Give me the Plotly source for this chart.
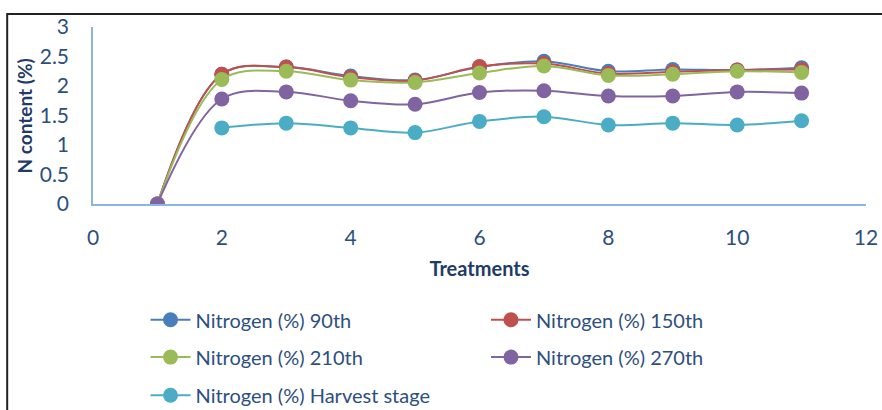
import plotly.graph_objects as go

# Treatment numbers on the x axis
treatments = [1, 2, 3, 4, 5, 6, 7, 8, 9, 10, 11]
harvest_treatments = [2, 3, 4, 5, 6, 7, 8, 9, 10, 11]

# Nitrogen content (%) by sampling day
n_90th = [0, 2.20, 2.32, 2.17, 2.10, 2.32, 2.42, 2.25, 2.28, 2.27, 2.31]
n_150th = [0, 2.20, 2.32, 2.15, 2.09, 2.33, 2.38, 2.21, 2.24, 2.27, 2.28]
n_210th = [0, 2.11, 2.25, 2.10, 2.06, 2.22, 2.34, 2.18, 2.20, 2.25, 2.23]
n_270th = [0, 1.78, 1.90, 1.75, 1.69, 1.89, 1.92, 1.83, 1.83, 1.90, 1.88]
n_harvest = [1.29, 1.37, 1.29, 1.21, 1.40, 1.48, 1.34, 1.37, 1.34, 1.41]

x_ticks = [0, 2, 4, 6, 8, 10, 12]
y_ticks = [0, 0.5, 1, 1.5, 2, 2.5, 3]
y_tick_text = ["0", "0.5", "1", "1.5", "2", "2.5", "3"]

series = [
    ("Nitrogen (%) 90th", treatments, n_90th, "#4A7EBB"),
    ("Nitrogen (%) 150th", treatments, n_150th, "#C0504D"),
    ("Nitrogen (%) 210th", treatments, n_210th, "#9BBB59"),
    ("Nitrogen (%) 270th", treatments, n_270th, "#8064A2"),
    ("Nitrogen (%) Harvest stage", harvest_treatments, n_harvest, "#4BACC6"),
]

# legend slots: two columns, three rows (container fractions)
legend_cols = [0.165, 0.551]
legend_rows = [0.22, 0.129, 0.036]
legend_ids = ["legend", "legend2", "legend3", "legend4", "legend5"]

FONT = "Lato"
TICK_COLOR = "#2E4F7E"
TITLE_COLOR = "#1F3B66"

fig = go.Figure()
for (name, xs, ys, color), leg in zip(series, legend_ids):
    fig.add_trace(go.Scatter(
        x=xs, y=ys, name=name, mode="lines+markers",
        line=dict(color=color, width=2, shape="spline", smoothing=1.0),
        marker=dict(color=color, size=15),
        legend=leg,
    ))

legend_layout = {}
for i, leg in enumerate(legend_ids):
    legend_layout[leg] = dict(
        xref="container", yref="container",
        x=legend_cols[i % 2], y=legend_rows[i // 2],
        xanchor="left", yanchor="middle",
        font=dict(family=FONT, size=20, color=TICK_COLOR),
        bgcolor="rgba(0,0,0,0)", itemwidth=40,
    )

fig.update_layout(
    width=882, height=410,
    margin=dict(l=93, r=16, t=27, b=206, autoexpand=False),
    paper_bgcolor="white", plot_bgcolor="white",
    showlegend=True,
    xaxis=dict(
        range=[0, 12], tickvals=x_ticks, showgrid=False, zeroline=False,
        showline=True, linecolor="#8EB4E3", linewidth=1.5,
        ticks="", ticklabelstandoff=14,
        tickfont=dict(family=FONT, size=21, color=TICK_COLOR),
        title=dict(text="<b>Treatments</b>", standoff=14,
                   font=dict(family=FONT, size=20, color=TITLE_COLOR)),
    ),
    yaxis=dict(
        range=[0, 3], tickvals=y_ticks, ticktext=y_tick_text,
        showgrid=False, zeroline=False,
        showline=True, linecolor="#8EB4E3", linewidth=1.5,
        ticks="", ticklabelstandoff=18,
        tickfont=dict(family=FONT, size=21, color=TICK_COLOR),
    ),
    annotations=[dict(
        text="<b>N content (%)</b>", xref="paper", yref="paper",
        x=-0.088, y=0.5, textangle=-90, showarrow=False,
        xanchor="center", yanchor="middle",
        font=dict(family=FONT, size=19, color=TITLE_COLOR),
    )],
    shapes=[dict(
        type="rect", xref="paper", yref="paper",
        x0=-0.111, x1=1.2, y0=-1.6, y1=1.073,
        line=dict(color="#222222", width=2), fillcolor="rgba(0,0,0,0)",
        layer="below",
    )],
    **legend_layout,
)

fig.write_html("out.html")
